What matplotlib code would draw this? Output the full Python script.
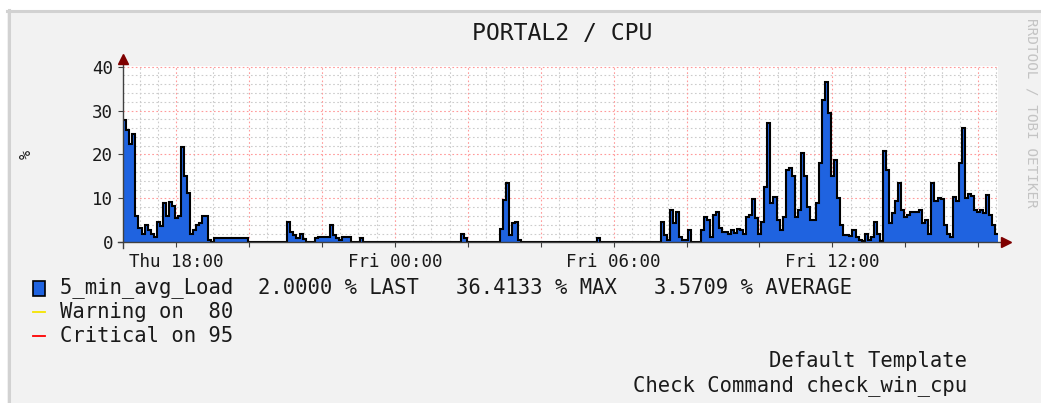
import datetime as dt
import matplotlib
matplotlib.use('Agg')
import matplotlib.pyplot as plt
import matplotlib.dates as mdates
from matplotlib.patches import Rectangle
from matplotlib.lines import Line2D

plt.rcParams['font.family'] = ['DejaVu Sans Mono']

# 5_min_avg_Load, one value per 5 minute step, 24 hours
t_start = dt.datetime(2014, 1, 9, 16, 33)
step_min = 5
load = [
    27.9, 25.6, 22.5, 24.6, 6.0, 3.2, 2.0, 3.9, 2.8, 2.0, 1.3, 4.7,
    3.6, 8.9, 6.0, 9.2, 8.2, 5.5, 6.0, 21.8, 15.0, 11.2, 2.0, 2.8,
    3.9, 4.5, 6.0, 6.0, 0.5, 0.0, 0.9, 0.9, 0.9, 0.9, 0.9, 0.9,
    0.9, 0.9, 0.9, 0.9, 0.9, 0.0, 0.0, 0.0, 0.0, 0.0, 0.0, 0.0,
    0.0, 0.0, 0.0, 0.0, 0.0, 0.0, 4.7, 2.4, 1.7, 0.9, 2.0, 0.7,
    0.0, 0.0, 0.0, 0.9, 1.3, 1.3, 1.3, 1.3, 4.0, 1.7, 0.9, 0.5,
    1.3, 1.3, 1.3, 0.0, 0.0, 0.0, 1.0, 0.0, 0.0, 0.0, 0.0, 0.0,
    0.0, 0.0, 0.0, 0.0, 0.0, 0.0, 0.0, 0.0, 0.0, 0.0, 0.0, 0.0,
    0.0, 0.0, 0.0, 0.0, 0.0, 0.0, 0.0, 0.0, 0.0, 0.0, 0.0, 0.0,
    0.0, 0.0, 0.0, 2.0, 0.9, 0.0, 0.0, 0.0, 0.0, 0.0, 0.0, 0.0,
    0.0, 0.0, 0.0, 0.0, 3.0, 9.6, 13.4, 1.7, 4.3, 4.7, 0.5, 0.0,
    0.0, 0.0, 0.0, 0.0, 0.0, 0.0, 0.0, 0.0, 0.0, 0.0, 0.0, 0.0,
    0.0, 0.0, 0.0, 0.0, 0.0, 0.0, 0.0, 0.0, 0.0, 0.0, 0.0, 0.0,
    0.9, 0.0, 0.0, 0.0, 0.0, 0.0, 0.0, 0.0, 0.0, 0.0, 0.0, 0.0,
    0.0, 0.0, 0.0, 0.0, 0.0, 0.0, 0.0, 0.0, 0.0, 4.7, 1.7, 0.5,
    7.4, 4.3, 7.0, 1.3, 0.5, 0.6, 2.8, 0.0, 0.0, 0.0, 2.8, 5.8,
    5.1, 1.3, 6.2, 7.0, 3.2, 2.4, 2.4, 2.0, 2.8, 2.2, 3.0, 2.8,
    2.0, 5.8, 6.2, 9.8, 5.5, 2.0, 4.7, 12.7, 27.1, 9.0, 10.4, 5.1,
    2.8, 5.8, 16.5, 16.9, 15.0, 5.8, 7.4, 20.3, 15.0, 8.1, 5.1, 5.1,
    8.9, 18.0, 32.4, 36.4133, 29.4, 15.0, 18.8, 10.0, 3.9, 1.7, 1.7, 1.5,
    2.8, 1.1, 0.5, 0.3, 1.9, 0.5, 1.3, 4.7, 2.0, 0.2, 20.7, 16.5,
    4.5, 6.6, 9.3, 13.4, 7.4, 5.8, 6.2, 7.0, 7.0, 7.0, 7.4, 4.3,
    5.0, 2.0, 13.4, 9.3, 10.0, 9.8, 3.9, 2.0, 1.3, 10.4, 9.3, 18.0,
    26.0, 10.0, 11.0, 10.6, 7.4, 7.0, 7.4, 6.6, 10.8, 6.2, 3.9, 2.0,
]
load_avg = 3.5709
warn_level = 80
crit_level = 95
y_major = [0, 10, 20, 30, 40]

area_col = '#1f63e0'
grid_col = '#cccccc'
mgrid_col = '#ff9a9a'
axis_col = '#404040'
arrow_col = '#7f0000'
text_col = '#1a1a1a'

W, H = 1041, 403


def fx(px):
    return px / W


def fy(py):
    return 1 - py / H


fig = plt.figure(figsize=(W / 100, H / 100), dpi=100, facecolor='white')

# canvas with the light shade on top / left
fig.patches.append(Rectangle((fx(7), 0), 1, fy(10), transform=fig.transFigure,
                             facecolor='#f2f2f2', edgecolor='none', zorder=-5))
fig.lines.append(Line2D([fx(7), 1], [fy(11), fy(11)], transform=fig.transFigure,
                        color='#d2d2d2', lw=2.2, zorder=-4))
fig.lines.append(Line2D([fx(8.5), fx(8.5)], [fy(10), 0], transform=fig.transFigure,
                        color='#d2d2d2', lw=2.2, zorder=-4))

ax = fig.add_axes([fx(123.3), fy(242.3), 875 / W, 176.8 / H])
ax.set_facecolor('white')

t_end = t_start + dt.timedelta(minutes=step_min * len(load))
x0, x1 = mdates.date2num(t_start), mdates.date2num(t_end)
ax.set_xlim(x0, x1)
ax.set_ylim(0, 40.27)

# grid: minor every 30 min / 2 %, major every 2 h / 10 %
dots = (0, (1.5, 2.2))
g = t_start.replace(minute=0, second=0) + dt.timedelta(hours=1)
major_x = []
while g < t_end:
    if g.minute == 0 and g.hour % 2 == 0:
        major_x.append(g)
    else:
        ax.axvline(mdates.date2num(g), color=grid_col, lw=0.8, ls=dots, zorder=1)
    g += dt.timedelta(minutes=30)
for v in range(2, 40, 2):
    if v % 10:
        ax.axhline(v, color=grid_col, lw=0.8, ls=dots, zorder=1)
for g in major_x:
    ax.axvline(mdates.date2num(g), color=mgrid_col, lw=0.8, ls=dots, zorder=2)
for v in y_major[1:]:
    ax.axhline(v, color=mgrid_col, lw=0.8, ls=dots, zorder=2)

# data
edges = [mdates.date2num(t_start + dt.timedelta(minutes=step_min * i))
         for i in range(len(load) + 1)]
ax.stairs(load, edges, fill=True, color=area_col, zorder=3)
ax.stairs(load, edges, baseline=None, color='black', lw=1.5, zorder=4)

# axes with arrows
for s in ax.spines.values():
    s.set_visible(False)
ax.plot([-0.006, 1.0054], [0, 0], transform=ax.transAxes, color=axis_col,
        lw=1, clip_on=False, zorder=5)
ax.plot([0, 0], [-0.032, 1.02], transform=ax.transAxes, color=axis_col,
        lw=1, clip_on=False, zorder=5)
ax.plot([1.0085], [0], marker='>', ms=7, color=arrow_col, ls='none',
        transform=ax.transAxes, clip_on=False, zorder=6)
ax.plot([0], [1.037], marker='^', ms=7, color=arrow_col, ls='none',
        transform=ax.transAxes, clip_on=False, zorder=6)

ax.set_yticks(y_major)
ax.set_yticklabels([str(v) for v in y_major])
ax.set_xticks([mdates.date2num(g) for g in major_x])
ax.set_xticklabels([g.strftime('%a %H:%M') if g.hour % 6 == 0 else '' for g in major_x])
ax.tick_params(axis='both', direction='out', length=3.5, width=0.8, color=axis_col,
               labelsize=12.6, labelcolor=text_col)
ax.tick_params(axis='y', pad=4)
ax.tick_params(axis='x', pad=4)

# titles and side texts
fig.text(fx(562), fy(33), 'PORTAL2 / CPU', fontsize=16.7, color=text_col,
         ha='center', va='center')
fig.text(fx(26), fy(154), '%', fontsize=11, color=text_col, rotation=90,
         ha='center', va='center')
fig.text(fx(1031), fy(113), 'RRDTOOL / TOBI OETIKER', fontsize=10.3,
         color='#c4c4c4', rotation=270, ha='center', va='center')

# legend
lx = fx(60)
legend_txt = '5_min_avg_Load  %.4f %% LAST   %.4f %% MAX   %.4f %% AVERAGE' % (
    load[-1], max(load), load_avg)
fig.patches.append(Rectangle((fx(33), fy(296)), 12 / W, 15 / H, transform=fig.transFigure,
                             facecolor=area_col, edgecolor='black', lw=1.2))
fig.text(lx, fy(288), legend_txt, fontsize=14.8, color=text_col, va='center')
fig.lines.append(Line2D([fx(33), fx(45)], [fy(312), fy(312)], transform=fig.transFigure,
                        color='#f5e400', lw=1.3))
fig.text(lx, fy(312), 'Warning on  %d' % warn_level, fontsize=14.8, color=text_col,
         va='center')
fig.lines.append(Line2D([fx(33), fx(45)], [fy(336), fy(336)], transform=fig.transFigure,
                        color='#ff0000', lw=1.3))
fig.text(lx, fy(336), 'Critical on %d' % crit_level, fontsize=14.8, color=text_col,
         va='center')

fig.text(fx(967), fy(361), 'Default Template', fontsize=14.8, color=text_col,
         ha='right', va='center')
fig.text(fx(967), fy(386), 'Check Command check_win_cpu', fontsize=14.8, color=text_col,
         ha='right', va='center')

fig.savefig('out.png', dpi=100, facecolor=fig.get_facecolor())
